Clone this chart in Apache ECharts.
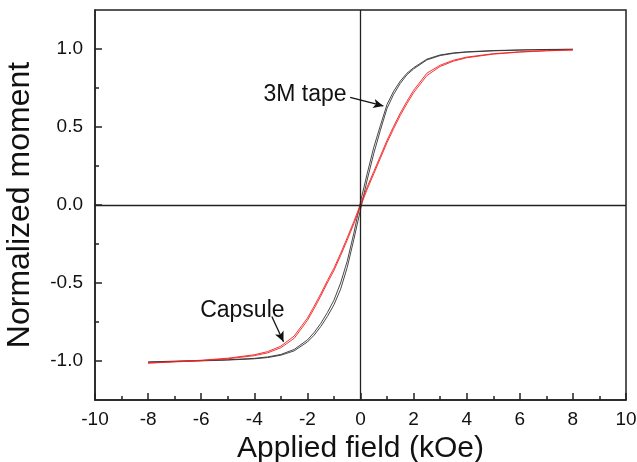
<!DOCTYPE html>
<html>
<head>
<meta charset="utf-8">
<script src="https://cdn.jsdelivr.net/npm/echarts@6/dist/echarts.min.js"></script>
<style>
  html, body { margin: 0; padding: 0; background: #fff; }
  #chart { width: 637px; height: 462px; }
</style>
</head>
<body>
<div id="chart"></div>
<script>
// applied field (kOe), both sweep directions use the same points
var field = [-8, -7, -6, -5, -4, -3.5, -3, -2.5, -2, -1.75, -1.5, -1.25, -1, -0.75, -0.5, -0.25,
  0, 0.25, 0.5, 0.75, 1, 1.25, 1.5, 1.75, 2, 2.5, 3, 3.5, 4, 5, 6, 7, 8];

// 3M tape, up sweep and down sweep
var tapeUp = [-1.008, -1.003, -0.999, -0.994, -0.986, -0.978, -0.963, -0.935, -0.878, -0.835, -0.78, -0.715, -0.64, -0.54, -0.4, -0.22,
  -0.03, 0.16, 0.33, 0.48, 0.62, 0.71, 0.78, 0.835, 0.872, 0.93, 0.958, 0.972, 0.98, 0.988, 0.993, 0.996, 0.998];
var tapeDown = [-1.006, -1.001, -0.997, -0.992, -0.983, -0.974, -0.958, -0.926, -0.865, -0.818, -0.76, -0.69, -0.61, -0.5, -0.36, -0.18,
  0.02, 0.2, 0.37, 0.51, 0.645, 0.73, 0.795, 0.845, 0.88, 0.935, 0.962, 0.975, 0.982, 0.99, 0.994, 0.997, 0.998];

// capsule, up sweep and down sweep
var capsuleUp = [-1.014, -1.006, -0.998, -0.986, -0.966, -0.948, -0.915, -0.855, -0.74, -0.665, -0.585, -0.5, -0.42, -0.325, -0.225, -0.12,
  -0.01, 0.1, 0.2, 0.3, 0.4, 0.49, 0.575, 0.65, 0.72, 0.83, 0.888, 0.922, 0.944, 0.967, 0.98, 0.988, 0.994];
var capsuleDown = [-1.012, -1.004, -0.995, -0.982, -0.96, -0.94, -0.905, -0.84, -0.725, -0.65, -0.57, -0.485, -0.405, -0.31, -0.21, -0.105,
  0.005, 0.115, 0.215, 0.315, 0.415, 0.505, 0.59, 0.665, 0.735, 0.845, 0.896, 0.928, 0.948, 0.97, 0.982, 0.99, 0.995];

var yMajor = [-1, -0.5, 0, 0.5, 1];
var yMinor = [-0.75, -0.25, 0.25, 0.75];

// annotation text and arrows, in data units
var tapeLabel = { text: "3M tape", at: [-2.09, 0.71] };
var tapeArrow = [[-0.39, 0.69], [0.86, 0.635]];
var capsuleLabel = { text: "Capsule", at: [-4.45, -0.68] };
var capsuleArrow = [[-3.34, -0.715], [-2.9, -0.876]];

function loop(up, down) {
  var pts = [];
  for (var i = 0; i < field.length; i++) pts.push([field[i], up[i]]);
  for (var j = field.length - 1; j >= 0; j--) pts.push([field[j], down[j]]);
  return pts;
}

var FONT = "Liberation Sans, Arial, sans-serif";
var AXIS = "#222";

var chart = echarts.init(document.getElementById("chart"));

function arrow(a) {
  return [{ coord: a[0] }, { coord: a[1] }];
}
function label(l) {
  return {
    coord: l.at,
    symbolSize: 0,
    label: { show: true, position: "inside", formatter: l.text, fontSize: 23, fontFamily: FONT, color: "#111" }
  };
}
// extra y axis that only draws ticks at the given values
function tickAxis(values, len) {
  return {
    type: "value",
    position: "left",
    offset: 0,
    min: -1.25, max: 1.25,
    axisLine: { show: false, onZero: false },
    axisTick: { show: true, inside: true, length: len, customValues: values, lineStyle: { color: AXIS, width: 1.5 } },
    axisLabel: { show: false },
    splitLine: { show: false }
  };
}

chart.setOption({
  animation: false,
  grid: {
    left: 95, right: 11, top: 10, bottom: 62,
    outerBoundsMode: "none",
    containLabel: false,
    show: true, borderColor: AXIS, borderWidth: 1.5
  },
  xAxis: {
    type: "value",
    min: -10, max: 10, interval: 2,
    name: "Applied field (kOe)",
    nameLocation: "middle",
    nameGap: 34,
    nameTextStyle: { fontSize: 30, fontFamily: FONT, color: "#111" },
    axisLine: { show: true, onZero: false, lineStyle: { color: AXIS, width: 1.5 } },
    axisTick: { inside: true, length: 7, lineStyle: { color: AXIS, width: 1.5 } },
    minorTick: { show: true, splitNumber: 2, length: 4, lineStyle: { color: AXIS, width: 1.5 } },
    splitLine: { show: false },
    axisLabel: { fontSize: 19, fontFamily: FONT, color: "#111", margin: 10 }
  },
  yAxis: [
    {
      type: "value",
      min: -1.25, max: 1.25,
      name: "Normalized moment",
      nameLocation: "middle",
      nameGap: 59,
      nameTextStyle: { fontSize: 32, fontFamily: FONT, color: "#111" },
      axisLine: { show: true, onZero: false, lineStyle: { color: AXIS, width: 1.5 } },
      axisTick: { show: false },
      splitLine: { show: false },
      axisLabel: {
        customValues: yMajor, fontSize: 19, fontFamily: FONT, color: "#111", margin: 12,
        formatter: function (v) { return v.toFixed(1); }
      }
    },
    tickAxis(yMajor, 7),
    tickAxis(yMinor, 4)
  ],
  series: [
    {
      name: "3M tape",
      type: "line",
      data: loop(tapeUp, tapeDown),
      showSymbol: false,
      lineStyle: { color: "#333", width: 0.9 },
      markLine: {
        silent: true,
        symbol: "none",
        label: { show: false },
        lineStyle: { color: AXIS, width: 1.3, type: "solid" },
        data: [{ xAxis: 0 }, { yAxis: 0 }]
      }
    },
    {
      name: "Capsule",
      type: "line",
      data: loop(capsuleUp, capsuleDown),
      showSymbol: false,
      lineStyle: { color: "#f02020", width: 0.9 },
      markLine: {
        silent: true,
        symbol: ["none", "arrow"],
        symbolSize: [7, 10],
        label: { show: false },
        lineStyle: { color: "#111", width: 1.3, type: "solid" },
        data: [arrow(tapeArrow), arrow(capsuleArrow)]
      },
      markPoint: {
        silent: true,
        data: [label(tapeLabel), label(capsuleLabel)]
      }
    }
  ]
});
</script>
</body>
</html>
